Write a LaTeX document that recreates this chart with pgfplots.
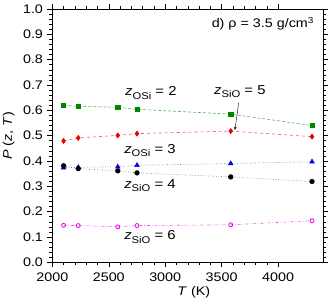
\documentclass[border=0pt]{standalone}
\usepackage{fontspec}
\setmainfont{Liberation Sans}[FakeStretch=1.15]
\usepackage{pgfplots}
\usetikzlibrary{arrows.meta}
\pgfplotsset{compat=1.18}
\definecolor{mkgreen}{RGB}{0,135,0}
\definecolor{lngreen}{RGB}{90,185,90}
\definecolor{mkred}{RGB}{235,0,0}
\definecolor{lnred}{RGB}{240,90,90}
\definecolor{mkblue}{RGB}{0,0,235}
\definecolor{lnblue}{RGB}{90,90,240}
\definecolor{mkmag}{RGB}{235,0,235}
\definecolor{lnmag}{RGB}{235,90,235}
\definecolor{lngray}{RGB}{110,110,110}
\newcommand{\zl}[2]{{\fontsize{13}{15}\selectfont\textit{z}\raisebox{-0.5ex}{\fontsize{9.8}{11}\selectfont #1} = #2}}
\begin{document}
\fontsize{12.5}{14.5}\selectfont
\begin{tikzpicture}
\begin{axis}[
  at={(0,0)}, anchor=south west,
  scale only axis, width=271bp, height=253.3bp,
  xmin=2000, xmax=4400, ymin=0, ymax=1,
  xtick={2000,2500,3000,3500,4000},
  ytick={0,0.1,0.2,0.3,0.4,0.5,0.6,0.7,0.8,0.9,1.0},
  minor x tick num=4, minor y tick num=4,
  tick align=outside, tick pos=both,
  major tick length=5bp, minor tick length=3bp,
  tick style={black, line width=0.5bp},
  axis line style={line width=0.6bp},
  /pgf/number format/assume math mode=true,
  /pgf/number format/1000 sep={},
  yticklabel style={/pgf/number format/.cd, fixed, fixed zerofill, precision=1},
  xticklabel style={yshift=-1bp},
  xlabel={\textit{T} (K)},
  ylabel={\textit{P} (\textit{z}, \textit{T})},
  xlabel style={yshift=3bp, xshift=6bp},
  every axis plot/.append style={line width=0.6bp},
]
\addplot[lngreen, densely dashed, mark=square*, mark size=2.1bp, mark options={solid, draw=mkgreen, fill=mkgreen}]
  coordinates {(2100,0.620) (2230,0.616) (2580,0.612) (2750,0.604) (3580,0.585) (4300,0.540)};
\addplot[lnred, dashed, mark=diamond*, mark size=2.5bp, mark options={solid, draw=mkred, fill=mkred}]
  coordinates {(2100,0.479) (2230,0.491) (2580,0.501) (2750,0.508) (3580,0.518) (4300,0.496)};
\addplot[lnblue, dotted, mark=triangle*, mark size=2.6bp, mark options={solid, draw=mkblue, fill=mkblue}]
  coordinates {(2100,0.373) (2230,0.375) (2580,0.377) (2750,0.383) (3580,0.390) (4300,0.397)};
\addplot[lngray, dotted, mark=*, mark size=2.3bp, mark options={solid, draw=black, fill=black}]
  coordinates {(2100,0.381) (2230,0.370) (2580,0.361) (2750,0.353) (3580,0.337) (4300,0.319)};
\addplot[lnmag, dashdotted, mark=o, mark size=2.0bp, mark options={solid, draw=mkmag, fill=white, line width=0.8bp}]
  coordinates {(2100,0.146) (2230,0.145) (2580,0.140) (2750,0.145) (3580,0.148) (4300,0.164)};
\node at (axis cs:2873,0.669) {\zl{OSi}{2}};
\node at (axis cs:3661,0.674) {\zl{SiO}{5}};
\draw[-{Stealth[length=3bp,width=2.5bp]}, line width=0.4bp] (axis cs:3651,0.63) -- (axis cs:3617,0.523);
\node at (axis cs:2865,0.441) {\zl{OSi}{3}};
\node at (axis cs:2865,0.303) {\zl{SiO}{4}};
\node at (axis cs:2865,0.099) {\zl{SiO}{6}};
\node[anchor=east] at (rel axis cs:1,0.942) [xshift=-5bp] {d) ρ = 3.5 g/cm\textsuperscript{3}};
\end{axis}
\pgfresetboundingbox
\useasboundingbox (-52.3bp,-42.7bp) rectangle (279.7bp,262.3bp);
\end{tikzpicture}
\end{document}
